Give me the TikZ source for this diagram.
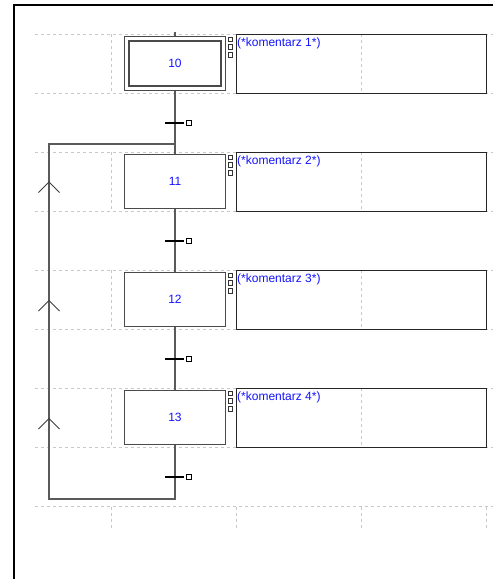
\documentclass[tikz,border=0pt]{standalone}
\usepackage{fontspec}
\setmainfont{Liberation Sans}
\usetikzlibrary{calc}
\definecolor{gridgray}{HTML}{C8C8C8}
\definecolor{stepgray}{HTML}{4A4A4A}
\definecolor{linkgray}{HTML}{5A5A5A}
\definecolor{numblue}{HTML}{1414FF}
\begin{document}
\begin{tikzpicture}[x=1pt,y=-1pt,
  grid/.style={draw=gridgray, line width=1pt, dash pattern=on 3pt off 3pt},
  stepbox/.style={draw=stepgray, line width=1.4pt, fill=white, minimum width=101pt, minimum height=54.5pt, inner sep=0pt, font=\fontsize{12}{14}\selectfont, text=numblue},
  innerbox/.style={draw=stepgray, line width=1.4pt, minimum width=92pt, minimum height=45pt, inner sep=0pt, font=\fontsize{12}{14}\selectfont, text=numblue},
  combox/.style={draw=black!85, line width=1pt, minimum width=250pt, minimum height=59pt, inner sep=0pt},
  ctext/.style={inner sep=0pt, font=\fontsize{12}{14}\selectfont, text=numblue, anchor=north west},
  sq/.style={draw=black!80, line width=0.9pt, fill=white, minimum size=4.8pt, inner sep=0pt},
  link/.style={draw=linkgray, line width=1.4pt},
  tbar/.style={draw=black, line width=2pt},
  chev/.style={draw=black!75, line width=0.9pt}
]
\path[use as bounding box] (0,0) rectangle (493,579);
\clip (0,0) rectangle (493,579);
\fill[white] (0,0) rectangle (493,579);
% frame
\draw[line width=2pt] (510,5) -- (13.5,5) -- (13.5,600);
% grid
\foreach \r in {34,152,270,388} {
  \draw[grid] (35,\r) -- (493,\r);
  \draw[grid] (35,\r+59) -- (493,\r+59);
  \foreach \x in {111.5,236.5,361.5,486.5}
    \draw[grid] (\x,\r) -- (\x,\r+59);
}
\draw[grid] (35,506.5) -- (493,506.5);
\foreach \x in {111.5,236.5,361.5,486.5}
  \draw[grid] (\x,506.5) -- (\x,530);
% steps
\node[stepbox] (s10) at (175,63.5) {};
\node[innerbox] (s10i) at (s10.center) {10};
\node[stepbox] (s11) at (175,181.5) {11};
\node[stepbox] (s12) at (175,299.5) {12};
\node[stepbox] (s13) at (175,417.5) {13};
% comments
\foreach \n/\r/\k in {10/34/1,11/152/2,12/270/3,13/388/4} {
  \node[combox] (c\n) at (361.5,\r+29.5) {};
  \node[ctext, xshift=1pt, yshift=-4.5pt] (ct\n) at (c\n.north west) {(*komentarz \k*)};
  \node[sq] (q\n a) at (230.5,\r+5.5) {};
  \node[sq] (q\n b) at (230.5,\r+13) {};
  \node[sq] (q\n c) at (230.5,\r+20.8) {};
}
% links
\coordinate (top) at (175,32);
\coordinate (lj) at (175,144);
\coordinate (lt) at (49,144);
\coordinate (ll) at (49,499);
\coordinate (lb) at (175,499);
\draw[link] (top) -- (s10.north);
\draw[link] (s10.south) -- (s11.north);
\draw[link] (s11.south) -- (s12.north);
\draw[link] (s12.south) -- (s13.north);
\draw[link] (s13.south) -- (lb) -- (ll) -- (lt) -- (lj);
% transitions
\foreach \i/\y in {1/122.5,2/240.5,3/358.5,4/477} {
  \coordinate (t\i) at (175,\y);
  \draw[tbar] ($(t\i)+(-10,0)$) -- ($(t\i)+(9,0)$);
  \node[draw=black, line width=0.9pt, fill=white, minimum size=5pt, inner sep=0pt] (tq\i) at ($(t\i)+(13.5,0)$) {};
}
% chevrons
\foreach \i/\y in {1/182,2/300.5,3/418.5} {
  \coordinate (ch\i) at (49,\y);
  \draw[chev] (ch\i) +(-10.5,10.5) -- (ch\i) -- +(10.5,10.5);
}
\end{tikzpicture}
\end{document}
